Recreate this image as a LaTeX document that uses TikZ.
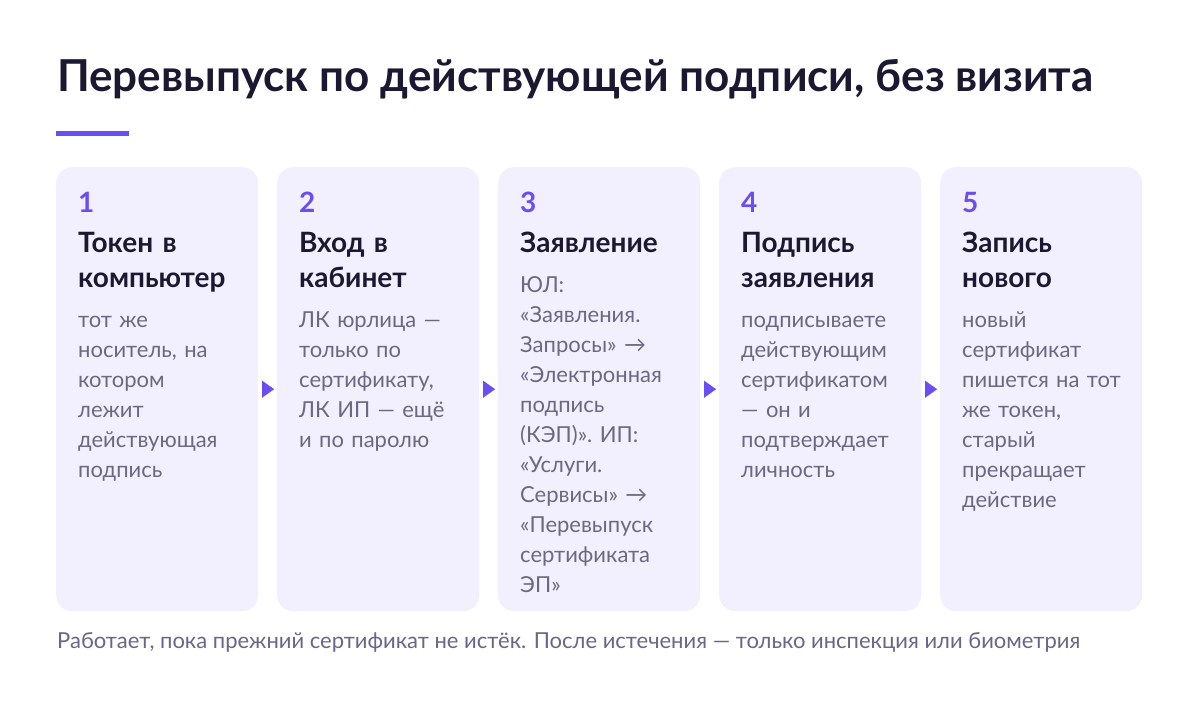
\documentclass[tikz,border=0pt]{standalone}
\usepackage{fontspec}
\setmainfont{Lato}
\usetikzlibrary{positioning,arrows.meta}
\definecolor{inkdark}{HTML}{1B1932}
\definecolor{accent}{HTML}{6B4EF2}
\definecolor{cardfill}{HTML}{F2F0FE}
\definecolor{bodygray}{HTML}{6B6882}
\definecolor{footgray}{HTML}{6A6688}
\begin{document}
\begin{tikzpicture}
[x=1pt,y=-1pt,
  carddecorate/.style={shape=rectangle,rounded corners=16pt,fill=cardfill,draw=none,
    minimum width=202pt,minimum height=444pt,inner sep=0pt,anchor=north west},
  numdecorate/.style={anchor=base west,inner sep=0pt,text=accent,
    font=\bfseries\fontsize{28}{34}\selectfont},
  headdecorate/.style={anchor=north west,inner sep=0pt,text=inkdark,text width=175pt,
    align=left,font=\bfseries\fontsize{28}{35}\selectfont},
  bodydecorate/.style={inner sep=0pt,text=bodygray,text width=175pt,align=left,
    font=\fontsize{22}{30}\selectfont},
  linedecorate/.style={-{Triangle[length=12pt,width=17pt]},draw=accent,fill=accent,
    line width=0.1pt,shorten <=4pt,shorten >=3pt}]
\useasboundingbox[fill=white] (0,0) rectangle (1200,726);
%% title
\node (title) at (57,91) [anchor=base west,inner sep=0pt,text=inkdark,
  font=\bfseries\fontsize{44}{50}\selectfont] {Перевыпуск по действующей подписи, без визита};
\fill[accent] (56,131) rectangle (129,136);
%% cards
\foreach \i/\h/\b in {
  1/{Токен в\\компьютер}/{тот же\\носитель, на\\котором\\лежит\\действующая\\подпись},
  2/{Вход в\\кабинет}/{ЛК юрлица —\\только по\\сертификату,\\ЛК ИП — ещё\\и по паролю},
  3/{Заявление}/{ЮЛ:\\«Заявления.\\Запросы» →\\«Электронная\\подпись\\(КЭП)». ИП:\\«Услуги.\\Сервисы» →\\«Перевыпуск\\сертификата\\ЭП»},
  4/{Подпись\\заявления}/{подписываете\\действующим\\сертификатом\\— он и\\подтверждает\\личность},
  5/{Запись\\нового}/{новый\\сертификат\\пишется на тот\\же токен,\\старый\\прекращает\\действие}} {
  \node (card\i) at ({56+221*(\i-1)},167) [carddecorate] {};
  \node (num\i) at ({78+221*(\i-1)},212) [numdecorate] {\i};
  \node (head\i) at ({78+221*(\i-1)},228) [headdecorate] {\strut\h\strut};
  \node (body\i) [bodydecorate,below right=8pt and 0pt of head\i.south west] {\strut\b};
}
%% arrows between cards
\path
\foreach \startnode/\endnode in {1/2, 2/3, 3/4, 4/5} {
  (card\startnode.east) edge[linedecorate] (card\endnode.west)
};
%% footnote
\node (foot) at (57,648) [anchor=base west,inner sep=0pt,text=footgray,
  font=\fontsize{22}{26}\selectfont] {Работает, пока прежний сертификат не истёк. После истечения — только инспекция или биометрия};
\end{tikzpicture}
\end{document}
